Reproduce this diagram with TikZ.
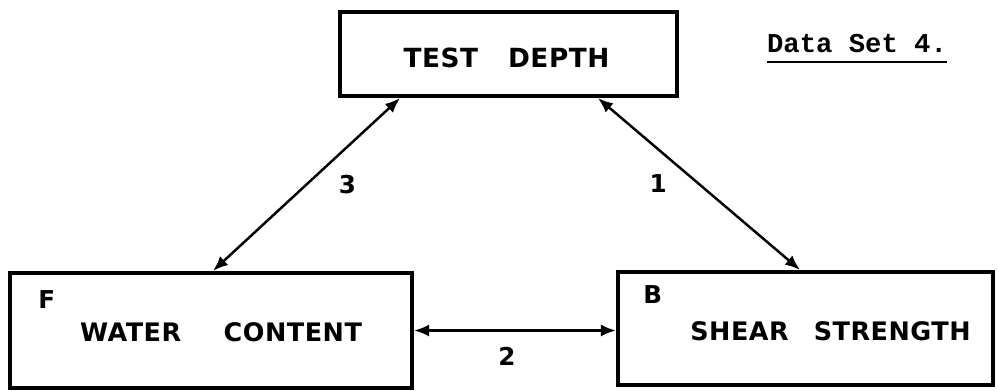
\documentclass[tikz,border=0pt]{standalone}
\usepackage{fontspec}
\usepackage{tikz}
\usetikzlibrary{arrows.meta, positioning, calc}
\newfontfamily\lettering{DejaVu Sans}[LetterSpace=2]
\newfontfamily\typed{Liberation Mono}

\begin{document}
\begin{tikzpicture}[
    x=0.02cm, y=-0.02cm,
    font=\lettering\bfseries,
    kotak/.style={draw, line width=2.4pt, inner sep=0pt},
    huruf/.style={font=\lettering\bfseries\fontsize{14}{16}\selectfont, inner sep=0pt},
    judulkotak/.style={font=\lettering\bfseries\fontsize{15}{17}\selectfont, inner sep=0pt},
    hubung/.style={{Latex[length=3mm, width=2.4mm]}-{Latex[length=3mm, width=2.4mm]},
                   line width=1.4pt},
    angka/.style={font=\lettering\bfseries\fontsize{14}{16}\selectfont, inner sep=2pt}
  ]
    \useasboundingbox (0,0) rectangle (998,391);
    % three boxes
    \node[kotak, minimum width=6.74cm, minimum height=1.68cm] (depth) at (508.5,54) {};
    \node[kotak, minimum width=8.04cm, minimum height=2.3cm] (water) at (211,330.5) {};
    \node[kotak, minimum width=7.5cm, minimum height=2.26cm] (shear) at (805.5,328.5) {};
    \node[judulkotak] at (506.5,57.5) {TEST\hspace{0.6cm}DEPTH};
    \node[judulkotak, font=\lettering\bfseries\fontsize{14.5}{16}\selectfont]
      at (221,332.5) {WATER\hspace{0.85cm}CONTENT};
    \node[judulkotak, font=\lettering\bfseries\fontsize{14.5}{16}\selectfont]
      at (830.5,331) {SHEAR\hspace{0.5cm}STRENGTH};
    \node[huruf, below right=0.38cm and 0.6cm of water.north west] {F};
    \node[huruf, below right=0.3cm and 0.54cm of shear.north west] {B};
    % connectors between the variables
    \draw[hubung] ([xshift=-2.17cm]depth.south) -- ([xshift=0.04cm]water.north)
      node[angka, pos=0.5, right=0.55cm] {3};
    \draw[hubung] ([xshift=1.79cm]depth.south) -- ([xshift=-0.11cm]shear.north)
      node[angka, pos=0.5, left=0.55cm] {1};
    \draw[hubung] (water.east) -- (water.east -| shear.west)
      node[angka, pos=0.46, below=0.25cm] {2};
    % data set caption
    \node[font=\typed\bfseries\fontsize{15.5}{17}\selectfont, inner sep=0pt]
      (judul) at (857,43.5) {Data Set 4.};
    \draw[line width=1.6pt] ([yshift=-0.18cm]judul.south west) -- ([yshift=-0.18cm]judul.south east);
\end{tikzpicture}
\end{document}
